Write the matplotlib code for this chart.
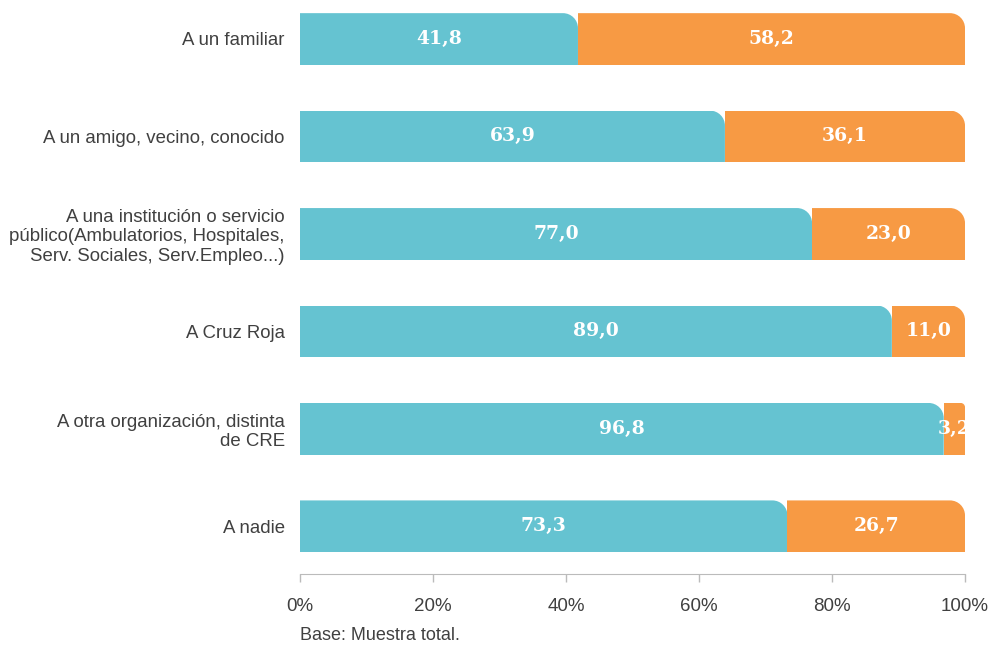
import matplotlib.pyplot as plt
from matplotlib.path import Path
from matplotlib.transforms import IdentityTransform

# datos
categorias = ['A un familiar',
              'A un amigo, vecino, conocido',
              'A una institución o servicio\npúblico(Ambulatorios, Hospitales,\nServ. Sociales, Serv.Empleo...)',
              'A Cruz Roja',
              'A otra organización, distinta\nde CRE',
              'A nadie']
serie_1 = [41.8, 63.9, 77.0, 89.0, 96.8, 73.3]
serie_2 = [58.2, 36.1, 23.0, 11.0, 3.2, 26.7]
ticks = [0, 20, 40, 60, 80, 100]
tick_labels = ['0%', '20%', '40%', '60%', '80%', '100%']

color_1 = '#65c3d1'
color_2 = '#f79a44'
gris = '#404040'

plt.rcParams['font.family'] = ['Liberation Sans', 'DejaVu Sans']

fig = plt.figure(figsize=(9.91, 6.46), dpi=100)
ax = fig.add_axes([300 / 991, 1 - 574 / 646, 665 / 991, 574 / 646])

pos = list(range(len(categorias)))
alto = 0.53
b1 = ax.barh(pos, serie_1, height=alto, color=color_1, linewidth=0)
b2 = ax.barh(pos, serie_2, left=serie_1, height=alto, color=color_2, linewidth=0)

ax.set_xlim(0, 100)
ax.set_ylim(5.49, -0.40)

ax.set_yticks(pos)
ax.set_yticklabels(categorias, fontsize=13.4, color=gris, linespacing=1.17)
ax.tick_params(axis='y', length=0, pad=11)
ax.set_xticks(ticks)
ax.set_xticklabels(tick_labels, fontsize=13.5, color=gris)
ax.tick_params(axis='x', length=6, color='#bbbbbb', width=1, pad=11, direction='out')

for s in ['top', 'right', 'left']:
    ax.spines[s].set_visible(False)
ax.spines['bottom'].set_color('#bbbbbb')

# etiquetas de valores
for barras in [b1, b2]:
    for rect in barras:
        w = rect.get_width()
        x = rect.get_x() + w / 2
        y = rect.get_y() + rect.get_height() / 2
        ax.text(x, y, f'{w:.1f}'.replace('.', ','), ha='center', va='center',
                color='white', fontsize=13.5, fontweight='bold', family=['DejaVu Serif'])

# esquina superior derecha redondeada
k = 0.5523
for barras in [b1, b2]:
    for rect in barras:
        (x0, y0), (x1, y1) = ax.transData.transform(
            [(rect.get_x(), rect.get_y()),
             (rect.get_x() + rect.get_width(), rect.get_y() + rect.get_height())])
        xa, xb = min(x0, x1), max(x0, x1)
        ya, yb = min(y0, y1), max(y0, y1)
        r = min(15, (xb - xa) / 5)
        verts = [(xa - 2, ya - 2), (xb, ya - 2), (xb, yb - r),
                 (xb, yb - r + k * r), (xb - r + k * r, yb), (xb - r, yb),
                 (xa - 2, yb), (xa - 2, ya - 2)]
        codes = [Path.MOVETO, Path.LINETO, Path.LINETO,
                 Path.CURVE4, Path.CURVE4, Path.CURVE4,
                 Path.LINETO, Path.CLOSEPOLY]
        rect.set_clip_path(Path(verts, codes), IdentityTransform())

fig.text(300 / 991, 1 - 636 / 646, 'Base: Muestra total.', fontsize=13,
         color=gris, ha='left', va='center')

fig.savefig('out.png', dpi=100)
